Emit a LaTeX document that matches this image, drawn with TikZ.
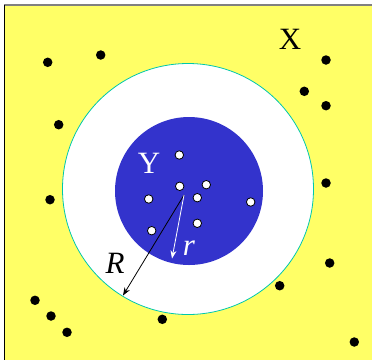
\documentclass[tikz,border=0pt]{standalone}
\usepackage{fontspec}
\setmainfont{Liberation Serif}
\usetikzlibrary{arrows.meta}
\definecolor{bgyellow}{RGB}{255,255,102}
\definecolor{discblue}{RGB}{51,51,204}
\definecolor{ringline}{RGB}{0,200,170}
\begin{document}
\begin{tikzpicture}[>={Stealth[length=8pt,width=6pt]}, x=1pt, y=-1pt,
    outdot/.style={circle, fill=black, inner sep=0pt, minimum size=9.5pt},
    indot/.style={circle, fill=white, draw=black, line width=0.8pt, inner sep=0pt, minimum size=8.5pt},
    biglabel/.style={font=\fontsize{31}{31}\selectfont, inner sep=0pt}]

    \useasboundingbox (0,0) rectangle (372,360);

    % 背景（黄色方框，只看得到上边和左边）
    \fill[bgyellow] (4,5) rectangle (372,360);
    \draw[gray, line width=1.2pt] (4,5) -- (372,5);
    \draw[black, line width=1pt] (4,5) -- (4,360);

    % 外圆（半径 R）
    \filldraw[fill=white, draw=ringline, line width=0.8pt] (188,189) circle (125.5pt);

    % 内圆（半径 r）
    \fill[discblue] (189,191) circle (74pt);

    % 外面的黑点
    \foreach \x/\y [count=\i] in {47.7/62.3, 100.7/55, 326/60, 304.3/91.3, 326/105.7,
        58.7/124.7, 50/199.7, 326/183, 329.7/263, 279.7/285.7, 35/300.3,
        51/316, 67/332.3, 162.3/319.3, 354.3/342}
      \node[outdot] (out\i) at (\x,\y) {};

    % 里面的白点
    \foreach \x/\y [count=\i] in {179.3/155, 179.7/186.3, 206.3/184.7, 197.3/197.7,
        148.7/199, 250.7/202, 197.3/223.3, 151.7/230.7}
      \node[indot] (in\i) at (\x,\y) {};

    % 半径箭头
    \coordinate (ctr) at (184,195);
    \coordinate (bigR) at (123,295.5);
    \coordinate (smallr) at (172,258.5);
    \draw[->, line width=0.8pt] (ctr) -- (bigR);
    \draw[->, white, line width=0.8pt] (ctr) -- (smallr);

    % 标签
    \node[biglabel] (labX) at (290,39) {X};
    \node[biglabel, white] (labY) at (149,163) {Y};
    \node[biglabel] (labR) at (115,263) {\itshape R};
    \node[biglabel, white] (labr) at (189,248) {\itshape r};

\end{tikzpicture}
\end{document}
